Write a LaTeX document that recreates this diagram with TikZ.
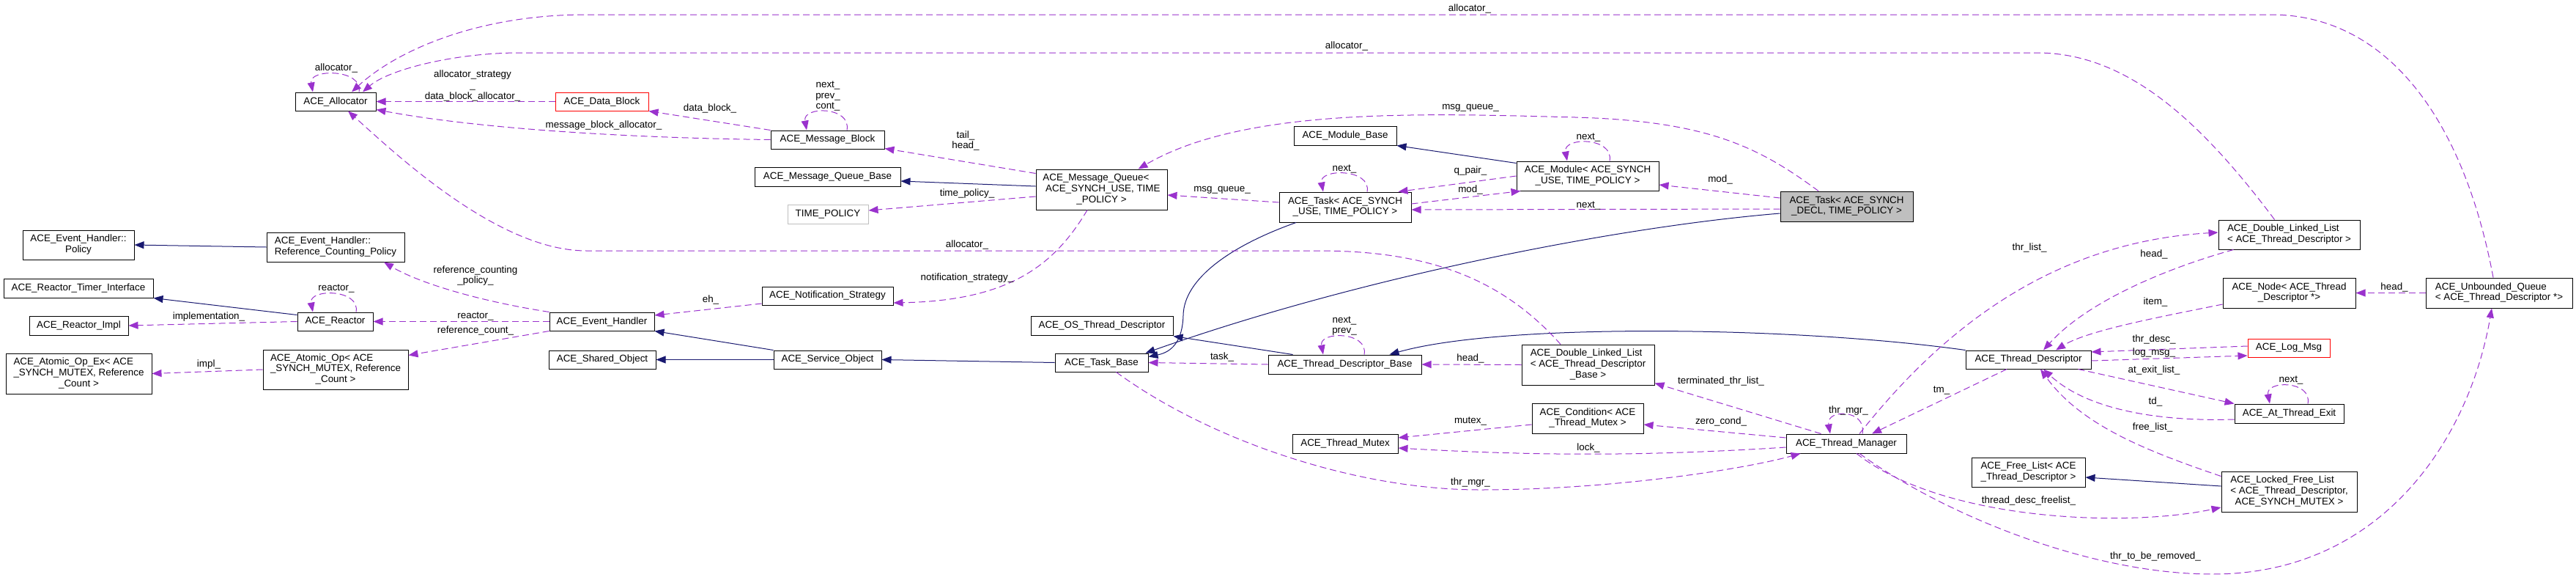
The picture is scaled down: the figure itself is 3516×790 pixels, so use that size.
\documentclass[tikz,border=0pt]{standalone}
\usepackage{fontspec}
\setmainfont{Liberation Sans}
\usetikzlibrary{arrows.meta,calc}
\definecolor{orchidc}{RGB}{154,50,205}
\definecolor{navyc}{RGB}{25,25,112}
\definecolor{grayc}{RGB}{191,191,191}
\newcommand{\dfont}{\fontsize{13.4}{14.6}\selectfont}
\newcommand{\mlines}[2]{\begin{tabular}{@{}l@{}}#1\\\multicolumn{1}{@{}c@{}}{#2}\end{tabular}}
\begin{document}
\begin{tikzpicture}[x=1pt,y=-1pt]
\tikzset{ClassStyle/.style 2 args =
	{draw = black,
		line width = 1pt,
		inner sep = 0pt,
		font = \dfont,
		minimum width = #1,
		minimum height = #2},
	UsesStyle/.style = {draw = orchidc, line width = 1pt, dash pattern = on 9pt off 5pt,
		-{Triangle[length=13pt,width=10pt]}},
	BaseStyle/.style = {draw = navyc, line width = 1pt, -{Triangle[length=13pt,width=10pt]}},
	LabelStyle/.style = {inner sep = 0pt, font = \dfont, align = center}}
\useasboundingbox (0,0) rectangle (3516,790);
\node[ClassStyle={110}{25}] (Al) at (458,138.5) {ACE\_Allocator};
\node[ClassStyle={152}{40}] (Pol) at (107,334) {\mlines{ACE\_Event\_Handler::}{Policy}};
\node[ClassStyle={188}{40}] (RCP) at (458,337) {\mlines{ACE\_Event\_Handler::}{Reference\_Counting\_Policy}};
\node[ClassStyle={204}{26}] (RTI) at (107,393) {ACE\_Reactor\_Timer\_Interface};
\node[ClassStyle={135}{26}] (RIm) at (107.5,444) {ACE\_Reactor\_Impl};
\node[ClassStyle={199}{55}] (AOx) at (107.5,509.5) {\mlines{ACE\_Atomic\_Op\_Ex< ACE\\\_SYNCH\_MUTEX, Reference}{\_Count >}};
\node[ClassStyle={103}{25}] (Rea) at (457.5,438.5) {ACE\_Reactor};
\node[ClassStyle={198}{54}] (AOp) at (458,504) {\mlines{ACE\_Atomic\_Op< ACE\\\_SYNCH\_MUTEX, Reference}{\_Count >}};
\node[ClassStyle={127}{25}, draw=red] (DB) at (821.5,138.5) {ACE\_Data\_Block};
\node[ClassStyle={155}{25}] (MB) at (1129.5,190.5) {ACE\_Message\_Block};
\node[ClassStyle={199}{26}] (MQB) at (1129.5,241) {ACE\_Message\_Queue\_Base};
\node[ClassStyle={110}{26}, draw=grayc] (TP) at (1130,292) {TIME\_POLICY};
\node[ClassStyle={179}{25}] (NS) at (1129.5,403.5) {ACE\_Notification\_Strategy};
\node[ClassStyle={143}{25}] (EH) at (821.5,438.5) {ACE\_Event\_Handler};
\node[ClassStyle={146}{25}] (ShO) at (822,490.5) {ACE\_Shared\_Object};
\node[ClassStyle={147}{25}] (SvO) at (1129.5,490.5) {ACE\_Service\_Object};
\node[ClassStyle={179}{55}] (MQ) at (1503.5,258.5) {\mlines{ACE\_Message\_Queue<\\\ ACE\_SYNCH\_USE, TIME}{\_POLICY >}};
\node[ClassStyle={194}{26}] (OSTD) at (1504,444) {ACE\_OS\_Thread\_Descriptor};
\node[ClassStyle={127}{25}] (TB) at (1503.5,494.5) {ACE\_Task\_Base};
\node[ClassStyle={209}{26}] (TDB) at (1835.5,497) {ACE\_Thread\_Descriptor\_Base};
\node[ClassStyle={180}{41}] (Tsk) at (1836,282.5) {\mlines{ACE\_Task< ACE\_SYNCH}{\_USE, TIME\_POLICY >}};
\node[ClassStyle={140}{26}] (MdB) at (1836,185) {ACE\_Module\_Base};
\node[ClassStyle={194}{40}] (Md) at (2167,240) {\mlines{ACE\_Module< ACE\_SYNCH}{\_USE, TIME\_POLICY >}};
\node[ClassStyle={181}{41}, fill=grayc] (TDc) at (2520.5,281.5) {\mlines{ACE\_Task< ACE\_SYNCH}{\_DECL, TIME\_POLICY >}};
\node[ClassStyle={181}{55}] (DLB) at (2167.5,497.5) {\mlines{ACE\_Double\_Linked\_List\\< ACE\_Thread\_Descriptor}{\_Base >}};
\node[ClassStyle={152}{41}] (Cnd) at (2167,570.5) {\mlines{ACE\_Condition< ACE}{\_Thread\_Mutex >}};
\node[ClassStyle={144}{26}] (TMx) at (1836,605) {ACE\_Thread\_Mutex};
\node[ClassStyle={164}{26}] (TM) at (2520,605) {ACE\_Thread\_Manager};
\node[ClassStyle={171}{25}] (TD) at (2768.5,490.5) {ACE\_Thread\_Descriptor};
\node[ClassStyle={155}{40}] (FL) at (2768.5,644) {\mlines{ACE\_Free\_List< ACE}{\_Thread\_Descriptor >}};
\node[ClassStyle={193}{40}] (DLL) at (3124.5,320) {\mlines{ACE\_Double\_Linked\_List}{< ACE\_Thread\_Descriptor >}};
\node[ClassStyle={181}{41}] (Nd) at (3124.5,399.5) {\mlines{ACE\_Node< ACE\_Thread}{\_Descriptor *>}};
\node[ClassStyle={200}{41}] (UQ) at (3411,399.5) {\mlines{ACE\_Unbounded\_Queue}{< ACE\_Thread\_Descriptor *>}};
\node[ClassStyle={112}{25}, draw=red] (LM) at (3124,474.5) {ACE\_Log\_Msg};
\node[ClassStyle={149}{26}] (ATE) at (3124.5,564) {ACE\_At\_Thread\_Exit};
\node[ClassStyle={185}{55}] (LFL) at (3124.5,670.5) {\mlines{ACE\_Locked\_Free\_List\\< ACE\_Thread\_Descriptor,}{ACE\_SYNCH\_MUTEX >}};
%base classes
\draw[BaseStyle] (RCP.west) -- (Pol.east);
\draw[BaseStyle] ($(Rea.north west)+(0,4)$) -- (RTI.south east);
\draw[BaseStyle] (SvO.north west) -- (EH.south east);
\draw[BaseStyle] (SvO.west) -- (ShO.east);
\draw[BaseStyle] (TB.west) -- (SvO.east);
\draw[BaseStyle] ($(MQ.west)+(0,-4.5)$) -- ($(MQB.east)+(0,6)$);
\draw[BaseStyle] ($(Md.north west)+(0,3)$) -- (MdB.south east);
\draw[BaseStyle] ($(Tsk.south)+(-67,0)$) .. controls (1680,335) and (1616,380) .. (1615,430)
	.. controls (1614,465) and (1600,480) .. ($(TB.north east)+(0,5)$);
\draw[BaseStyle] ($(TDc.west)+(0,9.5)$) .. controls (2200,310) and (1850,380) .. ($(TB.north east)+(-4,0)$);
\draw[BaseStyle] ($(TDB.north west)+(34,0)$) -- ($(OSTD.south east)+(0,1)$);
\draw[BaseStyle] (TD.north west) .. controls (2450,445) and (2050,440) .. ($(TDB.north east)+(-44,0)$);
\draw[BaseStyle] ($(LFL.west)+(0,-7.5)$) -- ($(FL.east)+(0,7)$);
%members
\draw[UsesStyle] ($(Al.north)+(32,0)$) .. controls +(6,-32) and +(-6,-32) .. ($(Al.north)+(-31,0)$);
\draw[UsesStyle] ($(UQ.north)+(-8,0)$) .. controls (3360,150) and (3250,20) .. (3100,20) -- (800,20)
	.. controls (650,20) and (540,70) .. ($(Al.north)+(22,0)$);
\draw[UsesStyle] ($(DLL.north)+(-20,0)$) .. controls (3000,160) and (2900,72) .. (2780,72) -- (710,72)
	.. controls (620,72) and (530,95) .. ($(Al.north)+(37,0)$);
\draw[UsesStyle] (DB.west) -- (Al.east);
\draw[UsesStyle] (MB.north west) -- (DB.south east);
\draw[UsesStyle] (MB.west) .. controls (850,188) and (650,175) .. ($(Al.east)+(0,11)$);
\draw[UsesStyle] ($(MB.north)+(26.5,0)$) .. controls +(6,-33) and +(-6,-33) .. ($(MB.north)+(-28.5,0)$);
\draw[UsesStyle] ($(MQ.north west)+(0,6)$) -- ($(MB.south east)+(0,-1)$);
\draw[UsesStyle] ($(MQ.west)+(0,9.5)$) -- ($(TP.east)+(0,-5)$);
\draw[UsesStyle] ($(MQ.south)+(-19.5,0)$) .. controls (1440,360) and (1380,410) .. ($(NS.east)+(0,9.5)$);
\draw[UsesStyle] ($(Tsk.west)+(0,-6.5)$) -- ($(MQ.east)+(0,7.5)$);
\draw[UsesStyle] ($(TDc.north)+(-38.5,0)$) .. controls (2400,200) and (2330,165) .. (2150,160)
	.. controls (1950,155) and (1700,145) .. ($(MQ.north)+(50,0)$);
\draw[UsesStyle] ($(Md.north)+(30,0)$) .. controls +(6,-33) and +(-6,-33) .. ($(Md.north)+(-28,0)$);
\draw[UsesStyle] ($(Tsk.north)+(30,0)$) .. controls +(6,-32) and +(-6,-32) .. ($(Tsk.north)+(-30,0)$);
\draw[UsesStyle] (Md.west) -- ($(Tsk.north east)+(-18,0)$);
\draw[UsesStyle] ($(Tsk.east)+(0,-4.5)$) -- ($(Md.south west)+(6,0)$);
\draw[UsesStyle] ($(TDc.west)+(0,-11.5)$) -- ($(Md.east)+(0,12)$);
\draw[UsesStyle] ($(TDc.west)+(0,3.5)$) -- ($(Tsk.east)+(0,3.5)$);
\draw[UsesStyle] ($(TDB.north)+(26.5,0)$) .. controls +(6,-32) and +(-6,-32) .. ($(TDB.north)+(-29.5,0)$);
\draw[UsesStyle] (TDB.west) -- (TB.east);
\draw[UsesStyle] (DLB.west) -- (TDB.east);
\draw[UsesStyle] ($(DLB.north)+(-37.5,0)$) .. controls (2050,380) and (1950,342) .. (1800,342) -- (800,342)
	.. controls (680,342) and (540,210) .. ($(Al.south)+(17,0)$);
\draw[UsesStyle] ($(TM.north west)+(48,0)$) -- ($(DLB.south east)+(0,-3)$);
\draw[UsesStyle] ($(TM.west)+(0,-8)$) -- ($(Cnd.east)+(0,8.5)$);
\draw[UsesStyle] ($(Cnd.west)+(0,8.5)$) -- ($(TMx.east)+(0,-8)$);
\draw[UsesStyle] ($(TM.west)+(0,5)$) .. controls (2250,622) and (2100,622) .. ($(TMx.east)+(0,6)$);
\draw[UsesStyle] ($(TB.south)+(20,0)$) .. controls (1650,600) and (1850,668) .. (2020,668)
	.. controls (2200,668) and (2380,640) .. ($(TM.south west)+(20,0)$);
\draw[UsesStyle] ($(TM.north)+(22,0)$) .. controls +(6,-34) and +(-6,-34) .. ($(TM.north)+(-22,0)$);
\draw[UsesStyle] ($(TD.south)+(-29.5,0)$) -- ($(TM.north)+(35,0)$);
\draw[UsesStyle] ($(TM.north)+(18,0)$) .. controls (2650,450) and (2800,330) .. ($(DLL.west)+(0,-3)$);
\draw[UsesStyle] ($(DLL.south west)+(21,0)$) .. controls (2960,365) and (2850,410) .. ($(TD.north)+(20.5,0)$);
\draw[UsesStyle] ($(Nd.west)+(0,15.5)$) .. controls (2960,430) and (2850,450) .. ($(TD.north)+(37.5,0)$);
\draw[UsesStyle] ($(LM.west)+(0,-2.5)$) -- ($(TD.east)+(0,-10.5)$);
\draw[UsesStyle] ($(TD.east)+(0,1.5)$) -- ($(LM.west)+(0,10.5)$);
\draw[UsesStyle] ($(TD.south east)+(-18,0)$) -- (ATE.north west);
\draw[UsesStyle] ($(ATE.west)+(0,8)$) .. controls (2950,575) and (2850,560) .. ($(TD.south)+(20.5,0)$);
\draw[UsesStyle] ($(ATE.north)+(25.5,0)$) .. controls +(6,-32) and +(-6,-32) .. ($(ATE.north)+(-26.5,0)$);
\draw[UsesStyle] ($(LFL.north west)+(0,7)$) .. controls (2930,615) and (2840,580) .. ($(TD.south)+(16.5,0)$);
\draw[UsesStyle] ($(TM.south)+(14,0)$) .. controls (2650,710) and (2900,720) .. ($(LFL.west)+(0,21.5)$);
\draw[UsesStyle] ($(TM.south)+(18,0)$) .. controls (2650,700) and (2850,783) .. (3020,783)
	.. controls (3250,783) and (3370,600) .. ($(UQ.south)+(-10,0)$);
\draw[UsesStyle] (UQ.west) -- (Nd.east);
\draw[UsesStyle] (EH.north west) .. controls (650,410) and (570,385) .. ($(RCP.south)+(66,0)$);
\draw[UsesStyle] (EH.west) -- (Rea.east);
\draw[UsesStyle] ($(Rea.north)+(28.5,0)$) .. controls +(6,-32) and +(-6,-32) .. ($(Rea.north)+(-30.5,0)$);
\draw[UsesStyle] (Rea.west) -- (RIm.east);
\draw[UsesStyle] (EH.south west) -- ($(AOp.north east)+(0,8)$);
\draw[UsesStyle] (AOp.west) -- (AOx.east);
\draw[UsesStyle] ($(NS.west)+(0,10.5)$) -- ($(EH.east)+(0,-8.5)$);
%labels
\node[LabelStyle] (l1) at (459,93) {allocator\_};
\node[LabelStyle] (l2) at (2006,12) {allocator\_};
\node[LabelStyle] (l3) at (1838,63) {allocator\_};
\node[LabelStyle] (l4) at (645,117) {allocator\_strategy\\\_\\data\_block\_allocator\_};
\node[LabelStyle] (l5) at (969,148) {data\_block\_};
\node[LabelStyle] (l6) at (824,171) {message\_block\_allocator\_};
\node[LabelStyle] (l7) at (1130,131) {next\_\\prev\_\\cont\_};
\node[LabelStyle] (l8) at (1318,192) {tail\_\\head\_};
\node[LabelStyle] (l9) at (1320,264) {time\_policy\_};
\node[LabelStyle] (l10) at (1320,379) {notification\_strategy\_};
\node[LabelStyle] (l11) at (1668,259) {msg\_queue\_};
\node[LabelStyle] (l12) at (2007,147) {msg\_queue\_};
\node[LabelStyle] (l13) at (2168,187) {next\_};
\node[LabelStyle] (l14) at (1835,230) {next\_};
\node[LabelStyle] (l15) at (2007,233) {q\_pair\_};
\node[LabelStyle] (l16) at (2007,259) {mod\_};
\node[LabelStyle] (l17) at (2348,245) {mod\_};
\node[LabelStyle] (l18) at (2168,280) {next\_};
\node[LabelStyle] (l19) at (1835,444.5) {next\_\\prev\_};
\node[LabelStyle] (l20) at (1668,487) {task\_};
\node[LabelStyle] (l21) at (2007,489) {head\_};
\node[LabelStyle] (l22) at (1320,334) {allocator\_};
\node[LabelStyle] (l23) at (2349,520) {terminated\_thr\_list\_};
\node[LabelStyle] (l24) at (2349,575) {zero\_cond\_};
\node[LabelStyle] (l25) at (2007,574) {mutex\_};
\node[LabelStyle] (l26) at (2168,611) {lock\_};
\node[LabelStyle] (l27) at (2007,658) {thr\_mgr\_};
\node[LabelStyle] (l28) at (2523,560) {thr\_mgr\_};
\node[LabelStyle] (l29) at (2650,532) {tm\_};
\node[LabelStyle] (l30) at (2770,338) {thr\_list\_};
\node[LabelStyle] (l31) at (2940,347) {head\_};
\node[LabelStyle] (l32) at (2942,412) {item\_};
\node[LabelStyle] (l33) at (2940,463) {thr\_desc\_};
\node[LabelStyle] (l34) at (2940,481) {log\_msg\_};
\node[LabelStyle] (l35) at (2940,505) {at\_exit\_list\_};
\node[LabelStyle] (l36) at (2942,548) {td\_};
\node[LabelStyle] (l37) at (3127,518) {next\_};
\node[LabelStyle] (l38) at (2938,583) {free\_list\_};
\node[LabelStyle] (l39) at (2769,683) {thread\_desc\_freelist\_};
\node[LabelStyle] (l40) at (2942,759) {thr\_to\_be\_removed\_};
\node[LabelStyle] (l41) at (3268,392) {head\_};
\node[LabelStyle] (l42) at (649,376) {reference\_counting\\\_policy\_};
\node[LabelStyle] (l43) at (649,431) {reactor\_};
\node[LabelStyle] (l44) at (459,393) {reactor\_};
\node[LabelStyle] (l45) at (285,432) {implementation\_};
\node[LabelStyle] (l46) at (649,451) {reference\_count\_};
\node[LabelStyle] (l47) at (285,497) {impl\_};
\node[LabelStyle] (l48) at (970,409) {eh\_};
\end{tikzpicture}
\end{document}
